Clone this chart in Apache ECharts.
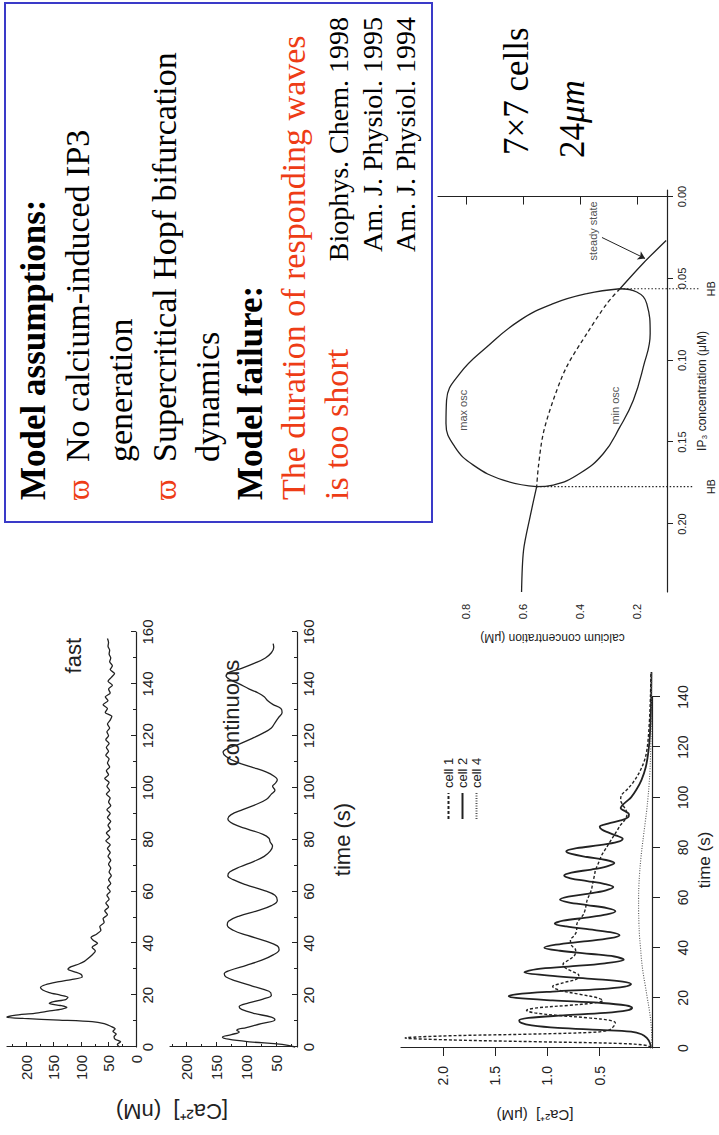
<!DOCTYPE html>
<html>
<head>
<meta charset="utf-8">
<script src="https://cdn.jsdelivr.net/npm/echarts@6/dist/echarts.min.js"></script>
<style>
  html, body { margin: 0; padding: 0; background: #fff; width: 719px; height: 1135px; overflow: hidden; }
  /* the slide is laid out landscape and turned a quarter turn onto the portrait page */
  #slide { position: absolute; left: 0; top: 0; width: 1135px; height: 719px;
           transform-origin: 0 0; transform: translate(0, 1135px) rotate(-90deg); }
</style>
</head>
<body>
<div id="slide"></div>
<script>
// ---------------- data ----------------
// recorded [Ca2+] traces (time s, nM)
const fastTrace = [[0,30],[1,34],[2,28],[3,38],[4,40],[5,36],[6,42],[7,38],[8,46],[9,58],[9.8,80],[10.4,140],[11,205],[11.5,236],[12.2,222],[13,185],[13.8,160],[14.6,135],[15.3,126],[16,138],[16.8,158],[17.5,150],[18.3,128],[19.2,124],[20,138],[21,158],[22,170],[23,174],[24,165],[25,145],[26,118],[27,98],[28,100],[29,112],[30,124],[31,118],[32,104],[33,94],[34,88],[35.5,80],[37,74],[38.5,80],[40,70],[41.2,78],[42.2,82],[43.5,72],[45,64],[46.5,66],[48,58],[49.5,60],[51,52],[52.5,57],[54,50],[55.5,55],[57,49],[58.5,53],[60,47],[61.5,52],[63,46],[64.5,50],[66,45],[67.5,49],[69,46],[70.5,50],[72,46],[73.5,51],[75,47],[76.5,52],[78,47],[79.5,55],[81,48],[82.5,54],[84,47],[85.5,51],[87,46],[88.5,52],[90,47],[91.5,53],[93,46],[94.5,50],[96,47],[97.5,54],[99,48],[100.5,53],[102,49],[103.5,57],[105,50],[106.5,54],[108,48],[109.5,52],[111,49],[112.5,55],[114,50],[115.5,54],[117,49],[118.5,55],[120,50],[121.5,53],[123,48],[124.5,52],[126,47],[127.5,44],[129,56],[130.5,52],[132,60],[133.5,51],[135,56],[136.5,47],[138,50],[139.5,43],[141,51],[142.5,45],[144,39],[145.5,47],[147,43],[148.5,48],[150,46],[151.5,49],[153,48],[154.5,51],[156,50],[157.5,52]];
const continuousTrace = [[0,18],[1,40],[2,95],[3,130],[3.8,140],[4.8,125],[5.8,112],[6.5,116],[7.5,100],[9,75],[10.5,52],[11.5,58],[13,88],[14.5,108],[15.5,112],[17,96],[18.5,72],[20,58],[21.5,62],[23.5,90],[25.5,118],[27,134],[28.2,137],[29.5,128],[31.5,100],[33.5,74],[35.5,55],[37.5,45],[39,48],[41,70],[43,98],[45,122],[47,132],[48.5,130],[50.5,112],[52.5,82],[54.5,58],[56.5,48],[58.5,52],[60.5,72],[62.5,100],[64.5,122],[66,131],[67.5,128],[69.5,110],[71.5,88],[73.5,70],[75.5,60],[77.5,56],[79,60],[80.5,62],[82,72],[84,98],[86,122],[88,131],[89.5,126],[91.5,106],[93.5,84],[95.5,66],[97.5,58],[99,52],[100.5,56],[101.5,52],[103,48],[104.5,54],[106,66],[108,92],[110,118],[112,134],[113.6,139],[115,132],[117,110],[119,90],[121,72],[123,58],[125,52],[127,46],[129,40],[130.5,42],[132,55],[133.5,64],[135,70],[136.5,80],[138,95],[140,112],[141.5,126],[143,134],[144.5,128],[146,108],[148,86],[150,68],[152,58],[154,54],[155.5,55]];
const nMLabels = [0, 50, 100, 150, 200];
const nMLabelsCont = [50, 100, 150, 200];
const nMMinor = [25, 75, 125, 175, 225];

// simulated cells (time s, µM)
const cell1 = [[0,0.01],[1,0.05],[1.8,0.3],[2.5,1.1],[3.2,1.9],[4,2.36],[4.8,2.0],[5.5,1.2],[6.2,0.6],[7,0.42],[8.5,0.37],[10,0.35],[11,0.4],[12,0.6],[13,0.9],[14,1.12],[15,1.2],[16,1.1],[17,0.8],[18,0.55],[19,0.47],[20,0.52],[21.5,0.7],[23,0.88],[24.5,0.95],[26,0.85],[27.5,0.72],[29,0.7],[30.5,0.76],[32,0.83],[33.5,0.85],[35,0.8],[37,0.74],[39,0.73],[41,0.77],[43,0.78],[45,0.74],[47,0.72],[49,0.72],[51,0.7],[53,0.66],[55,0.64],[57,0.63],[59,0.62],[61,0.6],[63,0.58],[65,0.57],[67,0.56],[69,0.55],[71,0.54],[73,0.52],[75,0.5],[77,0.48],[79,0.45],[81,0.42],[83,0.39],[85,0.36],[87,0.33],[89,0.3],[91,0.26],[93,0.24],[95,0.25],[97,0.28],[99,0.3],[101,0.29],[103,0.24],[106,0.18],[110,0.12],[115,0.07],[120,0.045],[130,0.025],[140,0.015],[150,0.01]];
const cell2 = [[0,0.01],[2,0.02],[4,0.05],[5.5,0.1],[6.5,0.2],[7.2,0.5],[8,0.9],[9,1.15],[10,1.25],[11,1.27],[12,1.18],[13,0.85],[14,0.45],[15,0.24],[16,0.19],[17,0.25],[18,0.5],[19,0.95],[20,1.3],[20.6,1.37],[21.4,1.3],[22.5,0.95],[23.5,0.5],[24.5,0.26],[25.5,0.2],[26.5,0.28],[27.5,0.55],[28.8,0.95],[30.2,1.22],[31.5,1.1],[32.5,0.8],[33.8,0.45],[35.2,0.27],[36.5,0.36],[37.5,0.58],[38.8,0.88],[40,1.03],[41.2,0.92],[42.5,0.65],[43.8,0.4],[45,0.31],[46.2,0.4],[47.3,0.6],[48.5,0.82],[49.6,0.93],[50.8,0.85],[52,0.63],[53.3,0.43],[54.6,0.35],[55.8,0.43],[57,0.62],[58.1,0.8],[59.2,0.88],[60.4,0.8],[61.6,0.6],[62.9,0.44],[64.2,0.37],[65.4,0.45],[66.6,0.62],[67.7,0.78],[68.8,0.84],[70,0.77],[71.2,0.58],[72.5,0.43],[73.8,0.36],[75,0.44],[76.2,0.62],[77.4,0.77],[78.5,0.82],[79.7,0.72],[80.9,0.5],[82.2,0.33],[83.5,0.28],[84.7,0.34],[86,0.42],[87.2,0.48],[88.3,0.5],[89.5,0.42],[90.8,0.3],[92,0.23],[93.3,0.22],[94.5,0.26],[95.7,0.3],[97,0.28],[98.5,0.24],[100,0.2],[103,0.15],[107,0.1],[112,0.06],[118,0.035],[125,0.02],[135,0.01],[150,0.005]];
const cell4 = [[0,0],[5,0.003],[10,0.01],[15,0.025],[20,0.045],[25,0.065],[30,0.085],[35,0.1],[40,0.11],[45,0.12],[50,0.125],[55,0.128],[60,0.128],[65,0.125],[70,0.118],[75,0.108],[80,0.095],[85,0.08],[90,0.065],[95,0.05],[100,0.038],[105,0.028],[110,0.02],[120,0.012],[130,0.007],[140,0.004],[150,0.003]];
const uMLabels = [0.5, 1.0, 1.5, 2.0];

// bifurcation diagram (IP3 µM, calcium µM)
const maxOsc = [[0.0563,0.26],[0.0593,0.376],[0.0654,0.494],[0.0756,0.611],[0.0919,0.727],[0.108,0.821],[0.1244,0.868],[0.1386,0.870],[0.1529,0.839],[0.164,0.774],[0.1732,0.669],[0.1772,0.552]];
const minOsc = [[0.0563,0.26],[0.0583,0.201],[0.0654,0.166],[0.0837,0.154],[0.104,0.178],[0.1244,0.213],[0.1407,0.26],[0.1569,0.318],[0.169,0.40],[0.1762,0.494],[0.1772,0.552]];
const steadyLow = [[0.0268,0.098],[0.041,0.18],[0.0563,0.26]];
const steadyUnstable = [[0.0563,0.26],[0.0654,0.306],[0.0837,0.376],[0.104,0.447],[0.1244,0.494],[0.1447,0.529],[0.165,0.546],[0.1772,0.552]];
const steadyHigh = [[0.1772,0.552],[0.1955,0.575],[0.216,0.598],[0.2415,0.605]];
const hopfIP3 = [0.0563, 0.1772];
const hopfCa = [0.26, 0.552];
const ip3Ticks = [0, 0.05, 0.10, 0.15, 0.20];
const caTicks = [0.2, 0.4, 0.6, 0.8];
const curveNotes = [
  { name: 'steady state', value: [0.021, 0.354] },
  { name: 'max osc', value: [0.1305, 0.81] },
  { name: 'min osc', value: [0.1277, 0.277] }
];
const steadyArrow = [[0.025, 0.323], [0.0378, 0.172]];

// ---------------- styles ----------------
const SANS = '"Liberation Sans", Arial, Helvetica, sans-serif';
const SERIF = '"Liberation Serif", "Times New Roman", "DejaVu Serif", serif';
const INK = '#222';
const RED = '#ee3c16';
const BLUE = '#3a3ac8';

const chart = echarts.init(document.getElementById('slide'), null, { renderer: 'svg', width: 1135, height: 719 });

function line(width) { return { show: true, lineStyle: { color: INK, width: width || 1.2 } }; }
function fmt(d) { return v => Number(v).toFixed(d); }

// slide text anchored on its baseline
function txt(text, x, baseline, size, opt) {
  opt = opt || {};
  return {
    type: 'text', x: x, y: baseline - 0.3 * size, silent: true,
    style: {
      text: text, x: 0, y: 0,
      fontFamily: opt.family || SERIF, fontSize: size,
      fontWeight: opt.weight || 'normal', fontStyle: opt.style || 'normal',
      fill: opt.color || '#000',
      align: opt.align || 'left', textAlign: opt.align || 'left',
      verticalAlign: 'middle', textVerticalAlign: 'middle',
      rich: opt.rich
    }
  };
}
function vtxt(text, cx, cy, size) {
  return {
    type: 'text', x: cx, y: cy, rotation: Math.PI / 2, silent: true,
    style: { text: text, x: 0, y: 0, fontFamily: SANS, fontSize: size, fill: INK,
             align: 'center', textAlign: 'center', verticalAlign: 'middle', textVerticalAlign: 'middle' }
  };
}

const matlabX = (gridIndex, name) => ({
  type: 'value', gridIndex: gridIndex, position: 'bottom', min: 0, max: 160, interval: 20,
  axisLine: line(1.2),
  axisTick: { show: true, inside: true, length: 5, lineStyle: { color: INK } },
  minorTick: { show: true, splitNumber: 2, length: 3, lineStyle: { color: INK } },
  axisLabel: { show: true, hideOverlap: false, fontFamily: SANS, fontSize: 15, color: INK, margin: 4 },
  splitLine: { show: false }, minorSplitLine: { show: false },
  name: name || '', nameLocation: 'middle', nameGap: 34, nameMoveOverlap: false,
  nameTextStyle: { fontFamily: SANS, fontSize: 22, color: INK }
});
const matlabY = (gridIndex, min, max, labels) => ({
  type: 'value', gridIndex: gridIndex, position: 'left', min: min, max: max,
  axisLine: line(1.2),
  axisTick: { show: true, inside: true, length: 5, customValues: labels, lineStyle: { color: INK } },
  axisLabel: { show: true, hideOverlap: false, customValues: labels, fontFamily: SANS, fontSize: 15, color: INK, margin: 8 },
  splitLine: { show: false }
});
const minorY = (gridIndex, min, max) => ({
  type: 'value', gridIndex: gridIndex, position: 'left', min: min, max: max,
  axisLine: { show: false },
  axisTick: { show: true, inside: true, length: 3, customValues: nMMinor, lineStyle: { color: INK } },
  axisLabel: { show: false }, splitLine: { show: false }
});

const option = {
  animation: false,
  backgroundColor: '#fff',
  textStyle: { fontFamily: SANS },
  grid: [
    { left: 88, top: 7, width: 415, height: 129, outerBoundsMode: 'none' },    // fast
    { left: 88, top: 170, width: 415, height: 127, outerBoundsMode: 'none' },  // continuous
    { left: 87, top: 401, width: 376, height: 251, outerBoundsMode: 'none' },  // cells, data
    { left: 87, top: 401, width: 351, height: 251, outerBoundsMode: 'none' },  // cells, time axis
    { left: 543, top: 438, width: 402, height: 229, outerBoundsMode: 'none' }  // bifurcation
  ],
  xAxis: [
    matlabX(0),
    matlabX(1, 'time (s)'),
    { type: 'value', gridIndex: 2, position: 'bottom', min: 0, max: 150,
      axisLine: { show: false }, axisTick: { show: false }, axisLabel: { show: false }, splitLine: { show: false },
      name: 'time (s)', nameLocation: 'middle', nameGap: 44, nameMoveOverlap: false,
      nameTextStyle: { fontFamily: SANS, fontSize: 17, color: INK } },
    { type: 'value', gridIndex: 3, position: 'bottom', min: 0, max: 140, interval: 20, offset: 15,
      axisLine: line(1.2),
      axisTick: { show: true, inside: false, length: 8, lineStyle: { color: INK } },
      axisLabel: { show: true, hideOverlap: false, fontFamily: SANS, fontSize: 14, color: INK, margin: 9 },
      splitLine: { show: false } },
    { type: 'value', gridIndex: 4, position: 'bottom', inverse: true, min: -0.004, max: 0.2415,
      axisLine: line(1.2),
      axisTick: { show: true, inside: false, length: 6, customValues: ip3Ticks, lineStyle: { color: INK } },
      axisLabel: { show: true, hideOverlap: false, customValues: ip3Ticks, formatter: fmt(2), fontFamily: SANS, fontSize: 11, color: INK, margin: 9 },
      splitLine: { show: false },
      name: 'IP₃ concentration (μM)', nameLocation: 'middle', nameGap: 29, nameMoveOverlap: false,
      nameTextStyle: { fontFamily: SANS, fontSize: 12, color: INK } },
    { type: 'value', gridIndex: 4, position: 'bottom', offset: 0, inverse: true, min: -0.004, max: 0.2415,
      axisLine: { show: false }, axisTick: { show: false },
      axisLabel: { show: true, hideOverlap: false, customValues: hopfIP3, formatter: () => 'HB', fontFamily: SANS, fontSize: 11, color: INK, margin: 38 },
      splitLine: { show: false } }
  ],
  yAxis: [
    matlabY(0, 0, 235, nMLabels),
    minorY(0, 0, 235),
    matlabY(1, 15, 228, nMLabelsCont),
    minorY(1, 15, 228),
    { type: 'value', gridIndex: 2, position: 'left', min: 0, max: 2.4, offset: 2,
      axisLine: line(1.2),
      axisTick: { show: true, inside: false, length: 8, customValues: uMLabels, lineStyle: { color: INK } },
      axisLabel: { show: true, hideOverlap: false, customValues: uMLabels, formatter: fmt(1), fontFamily: SANS, fontSize: 14, color: INK, margin: 16 },
      splitLine: { show: false } },
    { type: 'value', gridIndex: 3, show: false, min: 0, max: 2.4 },
    { type: 'value', gridIndex: 4, position: 'left', min: 0.095, max: 0.898,
      axisLine: line(1.2),
      axisTick: { show: true, inside: false, length: 8, customValues: caTicks, lineStyle: { color: INK } },
      axisLabel: { show: true, hideOverlap: false, customValues: caTicks, formatter: fmt(1), fontFamily: SANS, fontSize: 11, color: INK, margin: 12 },
      splitLine: { show: false },
      name: 'calcium concentration (μM)', nameLocation: 'middle', nameRotate: 90, nameGap: 40, nameMoveOverlap: false,
      nameTextStyle: { fontFamily: SANS, fontSize: 12, color: INK } }
  ],
  legend: {
    show: true, orient: 'vertical', left: 310, top: 437,
    itemWidth: 26, itemHeight: 12, itemGap: 1,
    data: ['cell 1', 'cell 2', 'cell 4'],
    itemStyle: { opacity: 0 },
    textStyle: { fontFamily: SANS, fontSize: 13, color: INK },
    selectedMode: false
  },
  series: [
    { type: 'line', name: 'fast', xAxisIndex: 0, yAxisIndex: 0, data: fastTrace, symbol: 'none', smooth: 0.25,
      lineStyle: { color: INK, width: 1.3 } },
    { type: 'line', name: 'continuous', xAxisIndex: 1, yAxisIndex: 2, data: continuousTrace, symbol: 'none', smooth: 0.4,
      lineStyle: { color: INK, width: 1.3 } },
    { type: 'line', name: 'cell 1', xAxisIndex: 2, yAxisIndex: 4, data: cell1, symbol: 'none', smooth: 0.35,
      itemStyle: { color: INK }, lineStyle: { color: INK, width: 1.4, type: [3, 2] } },
    { type: 'line', name: 'cell 2', xAxisIndex: 2, yAxisIndex: 4, data: cell2, symbol: 'none', smooth: 0.35,
      itemStyle: { color: INK }, lineStyle: { color: INK, width: 1.8, type: 'solid' } },
    { type: 'line', name: 'cell 4', xAxisIndex: 2, yAxisIndex: 4, data: cell4, symbol: 'none', smooth: 0.35,
      itemStyle: { color: '#555' }, lineStyle: { color: '#555', width: 1.1, type: [1, 1.5] } },
    { type: 'line', name: 'max osc', xAxisIndex: 4, yAxisIndex: 6, data: maxOsc, symbol: 'none', smooth: 0.45,
      lineStyle: { color: INK, width: 1.3 } },
    { type: 'line', name: 'min osc', xAxisIndex: 4, yAxisIndex: 6, data: minOsc, symbol: 'none', smooth: 0.45,
      lineStyle: { color: INK, width: 1.3 } },
    { type: 'line', name: 'steady state', xAxisIndex: 4, yAxisIndex: 6, data: steadyLow, symbol: 'none', smooth: 0.3,
      lineStyle: { color: INK, width: 1.3 },
      markLine: { silent: true, symbol: ['none', 'arrow'], symbolSize: 7, label: { show: false },
        lineStyle: { color: INK, width: 1, type: 'solid' },
        data: [[{ coord: steadyArrow[0] }, { coord: steadyArrow[1] }]] } },
    { type: 'line', name: 'unstable', xAxisIndex: 4, yAxisIndex: 6, data: steadyUnstable, symbol: 'none', smooth: 0.3,
      lineStyle: { color: INK, width: 1.3, type: [4, 3] } },
    { type: 'line', name: 'stable', xAxisIndex: 4, yAxisIndex: 6, data: steadyHigh, symbol: 'none', smooth: 0.3,
      lineStyle: { color: INK, width: 1.3 } },
    { type: 'line', name: 'HB1', xAxisIndex: 4, yAxisIndex: 6, clip: false, symbol: 'none',
      data: [[hopfIP3[0], hopfCa[0]], [hopfIP3[0], -0.02]], lineStyle: { color: INK, width: 1.2, type: [1.5, 2] } },
    { type: 'line', name: 'HB2', xAxisIndex: 4, yAxisIndex: 6, clip: false, symbol: 'none',
      data: [[hopfIP3[1], hopfCa[1]], [hopfIP3[1], 0.003]], lineStyle: { color: INK, width: 1.2, type: [1.5, 2] } },
    { type: 'scatter', name: 'notes', xAxisIndex: 4, yAxisIndex: 6, data: curveNotes, symbolSize: 1,
      itemStyle: { color: 'rgba(0,0,0,0)' },
      label: { show: true, position: 'inside', formatter: '{b}', fontFamily: SANS, fontSize: 11, color: INK } }
  ],
  graphic: [
    // text panel
    { type: 'rect', silent: true, shape: { x: 613, y: 5, width: 519, height: 427 },
      style: { fill: 'none', stroke: BLUE, lineWidth: 2 } },
    txt('Model assumptions:', 635, 44, 35, { weight: 'bold' }),
    txt('ϖ', 635, 88, 31, { color: RED }),
    txt('No calcium-induced IP3', 673, 88, 34),
    txt('generation', 673, 131, 34),
    txt('ϖ', 635, 175, 31, { color: RED }),
    txt('Supercritical Hopf bifurcation', 673, 175, 34),
    txt('dynamics', 673, 218, 34),
    txt('Model failure:', 635, 261, 35, { weight: 'bold' }),
    txt('The duration of responding waves', 635, 304, 34, { color: RED }),
    txt('is too short', 635, 347, 34, { color: RED }),
    txt('Biophys. Chem. 1998', 1118, 347, 28, { align: 'right' }),
    txt('Am. J. Physiol. 1995', 1118, 381, 28, { align: 'right' }),
    txt('Am. J. Physiol. 1994', 1118, 414, 28, { align: 'right' }),
    // lattice annotation
    txt('7×7 cells', 980, 527, 35),
    txt('{n|24}{u|μm}', 977, 583, 35, { rich: {
      n: { fontFamily: SERIF, fontSize: 35, fill: '#000', color: '#000' },
      u: { fontFamily: SERIF, fontSize: 35, fontStyle: 'italic', fill: '#000', color: '#000' } } }),
    // trace annotations
    txt('fast', 497, 80, 22, { family: SANS, color: INK, align: 'right' }),
    txt('continuous', 422, 238, 22, { family: SANS, color: INK, align: 'center' }),
    vtxt('[Ca²⁺]  (nM)', 24, 172, 22),
    vtxt('[Ca²⁺]  (μM)', 20, 535, 15)
  ]
};
chart.setOption(option);
</script>
</body>
</html>
